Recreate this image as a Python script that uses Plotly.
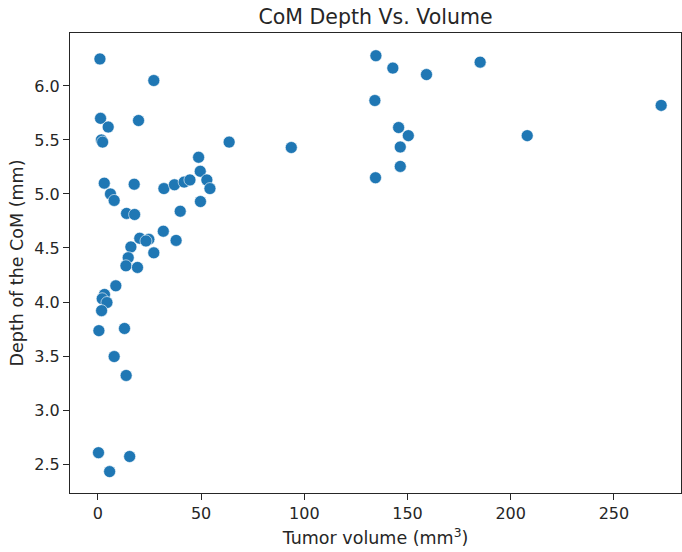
import plotly.graph_objects as go

volume = [1.0, 27.1, 1.3, 5.0, 19.7, 1.7, 2.3, 63.6, 48.8, 49.6, 52.8, 54.3, 49.7,
          3.1, 17.6, 32.0, 37.1, 41.8, 44.6, 6.1, 7.9, 13.9, 17.8, 39.9, 31.7,
          20.3, 24.7, 23.3, 37.9, 16.0, 27.1, 14.7,
          13.6, 19.2, 8.7, 3.2, 2.1, 4.4, 1.8, 0.5, 12.9, 7.9, 13.7, 0.3, 15.4, 5.7,
          134.7, 142.9, 159.2, 185.2, 134.2, 272.9, 145.7, 150.4, 208.0, 93.7,
          146.5, 146.5, 134.5]
depth = [6.25, 6.05, 5.70, 5.62, 5.68, 5.50, 5.48, 5.48, 5.34, 5.21, 5.13, 5.05, 4.93,
         5.10, 5.09, 5.05, 5.085, 5.11, 5.13, 5.00, 4.94, 4.82, 4.81, 4.84, 4.655,
         4.59, 4.58, 4.565, 4.57, 4.51, 4.455, 4.41,
         4.335, 4.32, 4.15, 4.07, 4.03, 3.995, 3.92, 3.735, 3.755, 3.495, 3.32, 2.605, 2.57, 2.43,
         6.28, 6.165, 6.105, 6.22, 5.865, 5.82, 5.615, 5.54, 5.54, 5.43,
         5.435, 5.255, 5.15]

x_ticks = [0, 50, 100, 150, 200, 250]
y_ticks = [2.5, 3.0, 3.5, 4.0, 4.5, 5.0, 5.5, 6.0]

ink = "#262626"
fig = go.Figure(go.Scatter(
    x=volume, y=depth, mode="markers",
    marker=dict(color="#1f77b4", size=12, line=dict(color="white", width=0.6)),
))
fig.update_layout(
    width=682, height=552,
    margin=dict(l=70, r=1, t=33, b=59),
    paper_bgcolor="white", plot_bgcolor="white",
    font=dict(family="DejaVu Sans", color=ink, size=16),
    showlegend=False,
    title=dict(text="CoM Depth Vs. Volume", x=0.5, xref="paper", xanchor="center",
               y=1 - 17 / 552, yref="container", yanchor="middle", font=dict(size=20.5, color=ink)),
)
axis_common = dict(showgrid=False, zeroline=False, showline=True, mirror=True,
                   linecolor=ink, linewidth=1.25, ticks="outside", ticklen=6,
                   tickwidth=1.25, tickcolor=ink, tickfont=dict(size=16, color=ink))
fig.update_xaxes(range=[-13.5, 282.5], tickvals=x_ticks,
                 title=dict(text="Tumor volume (mm<sup>3</sup>)", font=dict(size=17.5, color=ink), standoff=9),
                 **axis_common)
fig.update_yaxes(range=[2.232, 6.49], tickvals=y_ticks, tickformat=".1f",
                 title=dict(text="Depth of the CoM (mm)", font=dict(size=17.5, color=ink), standoff=6),
                 **axis_common)
fig.write_html("out.html")
